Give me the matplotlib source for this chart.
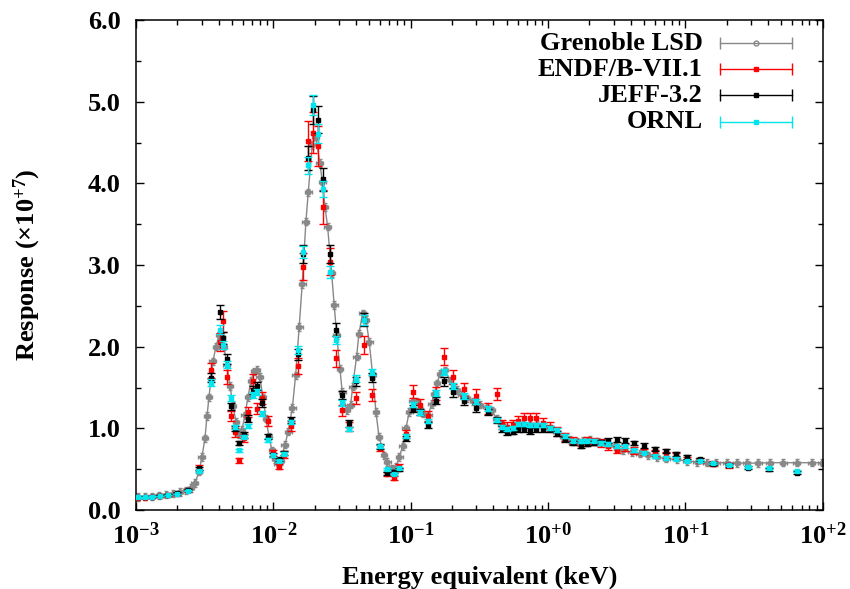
import numpy as np
import matplotlib
matplotlib.use("Agg")
import matplotlib.pyplot as plt
from matplotlib.ticker import LogLocator, FuncFormatter, MultipleLocator, NullFormatter

plt.rcParams["font.family"] = ["Liberation Serif", "DejaVu Serif"]
plt.rcParams["font.weight"] = "bold"
plt.rcParams["mathtext.fontset"] = "custom"
plt.rcParams["mathtext.rm"] = "Liberation Serif:bold"
plt.rcParams["mathtext.it"] = "Liberation Serif:bold:italic"
plt.rcParams["mathtext.bf"] = "Liberation Serif:bold"

# Grenoble LSD measurement (log10 of energy in keV, response in 1e7)
lsd_log_e = [
    -2.985, -2.934, -2.884, -2.833, -2.782, -2.731, -2.680, -2.636, -2.600, -2.571,
    -2.541, -2.520, -2.498, -2.483, -2.469, -2.454, -2.440, -2.418, -2.396, -2.374,
    -2.360, -2.338, -2.316, -2.294, -2.272, -2.250, -2.229, -2.207, -2.185, -2.163,
    -2.141, -2.119, -2.098, -2.076, -2.054, -2.032, -2.010, -1.988, -1.967, -1.945,
    -1.916, -1.892, -1.862, -1.838, -1.812, -1.790, -1.763, -1.746, -1.717, -1.692,
    -1.661, -1.644, -1.624, -1.605, -1.576, -1.557, -1.539, -1.515, -1.499, -1.467,
    -1.437, -1.423, -1.394, -1.377, -1.350, -1.326, -1.302, -1.277, -1.253, -1.231,
    -1.195, -1.171, -1.139, -1.108, -1.084, -1.059, -1.035, -1.011, -0.986, -0.957,
    -0.933, -0.909, -0.873, -0.848, -0.829, -0.809, -0.787, -0.751, -0.715, -0.666,
    -0.630, -0.593, -0.545, -0.496, -0.448, -0.411, -0.375, -0.338, -0.302, -0.254,
    -0.218, -0.181, -0.132, -0.084, -0.036, 0.013, 0.062, 0.110, 0.159, 0.207,
    0.256, 0.304, 0.365, 0.426, 0.486, 0.547, 0.608, 0.668, 0.729, 0.790,
    0.862, 0.935, 1.008, 1.081, 1.154, 1.226, 1.299, 1.372, 1.445, 1.529,
    1.614, 1.711, 1.809, 1.918, 1.993,
]
lsd_resp = [
    0.16, 0.165, 0.17, 0.18, 0.19, 0.20, 0.22, 0.24, 0.27, 0.33,
    0.47, 0.65, 0.88, 1.15, 1.38, 1.60, 1.82, 2.00, 2.14, 2.12,
    2.00, 1.78, 1.52, 1.28, 1.08, 0.93, 0.98, 1.16, 1.38, 1.58,
    1.70, 1.72, 1.63, 1.38, 1.12, 0.90, 0.73, 0.62, 0.57, 0.60,
    0.80, 0.96, 1.25, 1.65, 2.24, 2.77, 3.53, 3.89, 4.47, 4.57,
    4.25, 4.02, 3.71, 3.47, 2.90, 2.51, 2.14, 1.73, 1.45, 1.22,
    1.29, 1.51, 1.88, 2.16, 2.41, 2.33, 2.06, 1.65, 1.20, 0.90,
    0.67, 0.59, 0.51, 0.53, 0.65, 0.78, 1.00, 1.20, 1.33, 1.33,
    1.24, 1.18, 1.16, 1.30, 1.42, 1.55, 1.67, 1.71, 1.59, 1.47,
    1.41, 1.37, 1.33, 1.29, 1.26, 1.22, 1.12, 1.04, 1.00, 1.00,
    1.02, 1.04, 1.04, 1.04, 1.03, 1.00, 0.96, 0.90, 0.86, 0.84,
    0.85, 0.86, 0.84, 0.82, 0.78, 0.73, 0.71, 0.69, 0.67, 0.65,
    0.63, 0.62, 0.60, 0.59, 0.58, 0.58, 0.58, 0.575, 0.575, 0.575,
    0.58, 0.58, 0.58, 0.58, 0.58,
]

# simulations share one energy grid
sim_log_e = [
    -2.983, -2.934, -2.886, -2.825, -2.765, -2.699, -2.624, -2.539, -2.456, -2.392,
    -2.369, -2.340, -2.309, -2.280, -2.250, -2.214, -2.187, -2.151, -2.122, -2.085,
    -2.042, -2.001, -1.959, -1.919, -1.873, -1.821, -1.782, -1.746, -1.714, -1.673,
    -1.637, -1.588, -1.544, -1.503, -1.450, -1.399, -1.341, -1.285, -1.224, -1.171,
    -1.122, -1.084, -1.037, -0.986, -0.933, -0.877, -0.817, -0.756, -0.691, -0.611,
    -0.525, -0.440, -0.370, -0.338, -0.298, -0.254, -0.218, -0.176, -0.132, -0.089,
    -0.040, 0.013, 0.062, 0.122, 0.183, 0.239, 0.286, 0.333, 0.384, 0.437,
    0.499, 0.559, 0.627, 0.697, 0.777, 0.855, 0.928, 1.008, 1.105, 1.202,
    1.318, 1.456, 1.609, 1.809,
]
endf_resp = [
    0.15, 0.15, 0.16, 0.17, 0.18, 0.20, 0.24, 0.52, 1.71, 2.06,
    2.31, 1.63, 1.15, 0.95, 0.61, 0.88, 1.20, 1.58, 1.24, 1.37,
    1.09, 0.70, 0.53, 0.68, 1.03, 1.76, 2.98, 4.52, 4.62, 4.46,
    3.71, 3.04, 1.86, 1.22, 1.02, 1.37, 2.02, 1.41, 0.76, 0.44,
    0.39, 0.53, 0.93, 1.45, 1.29, 1.15, 1.43, 1.88, 1.63, 1.48,
    1.40, 1.24, 1.42, 1.05, 1.02, 1.05, 1.09, 1.13, 1.13, 1.13,
    1.07, 1.02, 0.96, 0.90, 0.85, 0.83, 0.85, 0.84, 0.82, 0.78,
    0.74, 0.77, 0.73, 0.71, 0.70, 0.67, 0.66, 0.62, 0.61, 0.57,
    0.55, np.nan, np.nan, np.nan,
]
jeff_resp = [
    0.16, 0.16, 0.165, 0.175, 0.19, 0.21, 0.25, 0.51, 1.62, 2.43,
    2.11, 1.85, 1.27, 1.00, 0.82, 0.92, 1.12, 1.47, 1.52, 1.31,
    0.90, 0.67, 0.62, 0.70, 1.10, 1.91, 3.14, 4.31, 4.90, 4.78,
    4.05, 3.13, 2.21, 1.41, 1.06, 1.58, 2.33, 1.62, 0.78, 0.45,
    0.47, 0.50, 0.88, 1.24, 1.20, 1.04, 1.34, 1.58, 1.44, 1.33,
    1.25, 1.20, 1.10, 0.99, 0.95, 0.96, 0.99, 0.99, 0.97, 0.99,
    0.99, 0.99, 0.94, 0.87, 0.82, 0.79, 0.81, 0.82, 0.83, 0.85,
    0.86, 0.85, 0.82, 0.79, 0.75, 0.72, 0.69, 0.65, 0.62, 0.57,
    0.55, 0.52, 0.50, 0.46,
]
ornl_resp = [
    0.155, 0.155, 0.163, 0.171, 0.184, 0.196, 0.236, 0.48, 1.56, 2.21,
    2.02, 1.78, 1.37, 1.02, 0.73, 0.90, 1.03, 1.41, 1.45, 1.18,
    0.86, 0.67, 0.60, 0.69, 1.08, 1.96, 3.16, 4.22, 4.96, 4.61,
    3.93, 2.91, 2.08, 1.31, 0.99, 1.61, 2.33, 1.69, 0.78, 0.50,
    0.44, 0.51, 0.91, 1.29, 1.20, 1.09, 1.43, 1.69, 1.52, 1.40,
    1.33, 1.24, 1.10, 1.02, 0.99, 1.00, 1.05, 1.05, 1.04, 1.04,
    1.04, 1.01, 0.98, 0.91, 0.85, 0.84, 0.85, 0.85, 0.82, 0.81,
    0.78, 0.78, 0.73, 0.70, 0.66, 0.64, 0.63, 0.60, 0.60, 0.58,
    0.55, 0.53, 0.51, 0.48,
]

labels = ["Grenoble LSD", "ENDF/B-VII.1", "JEFF-3.2", "ORNL"]
colors = ["#888888", "#ff0000", "#000000", "#00e5ee"]
rel_err = [0.055, 0.035, 0.025]   # relative uncertainty of the three libraries

lsd_e = 10 ** np.array(lsd_log_e)
lsd_y = np.array(lsd_resp)
sim_e = 10 ** np.array(sim_log_e)

FS = 19

fig, ax = plt.subplots(figsize=(8.5, 5.89), dpi=100)
fig.subplots_adjust(left=0.16, right=0.968, bottom=0.134, top=0.966)

# measurement: line + small x/y error bars (asterisk-like look)
half = 10 ** 0.025
ax.errorbar(lsd_e, lsd_y, xerr=[lsd_e - lsd_e / half, lsd_e * half - lsd_e],
            yerr=0.045, fmt="-o", color=colors[0], ms=3.5, lw=1,
            elinewidth=1.3, capsize=1.5, zorder=2)

for resp, col, rel, z in zip([endf_resp, jeff_resp, ornl_resp], colors[1:], rel_err, [3, 4, 5]):
    y = np.array(resp, dtype=float)
    ax.errorbar(sim_e, y, yerr=rel * y, fmt="s", color=col, ms=3.5,
                elinewidth=1, capsize=3, capthick=1, zorder=z)

ax.set_xscale("log")
ax.set_xlim(1e-3, 1e2)
ax.set_ylim(0, 6)

ax.xaxis.set_major_locator(LogLocator(base=10, numticks=10))
ax.xaxis.set_minor_locator(LogLocator(base=10, subs=np.arange(2, 10), numticks=20))
ax.xaxis.set_minor_formatter(NullFormatter())
ax.xaxis.set_major_formatter(FuncFormatter(lambda v, _: f"$10^{{{int(round(np.log10(v))):+d}}}$"))
ax.yaxis.set_major_locator(MultipleLocator(1.0))
ax.yaxis.set_minor_locator(MultipleLocator(0.5))
ax.yaxis.set_major_formatter(FuncFormatter(lambda v, _: f"{v:.1f}"))

ax.tick_params(which="both", direction="in", top=True, right=True, width=1, labelsize=FS)
ax.tick_params(which="major", length=6)
ax.tick_params(which="minor", length=3.5)
ax.tick_params(axis="x", which="major", pad=9)
ax.tick_params(axis="y", which="major", pad=11)
for s in ax.spines.values():
    s.set_linewidth(1.1)

ax.set_xlabel("Energy equivalent (keV)", fontsize=FS, fontweight="bold", labelpad=12)
ax.set_ylabel("Response ($\\times$10$^{+7}$)", fontsize=FS, fontweight="bold", labelpad=32)

# gnuplot-style key: right aligned text, horizontal error-bar sample
rows_y = [0.953, 0.900, 0.847, 0.792]
for lbl, col, yy, mk in zip(labels, colors, rows_y, ["o", "s", "s", "s"]):
    ax.text(0.825, yy, lbl, transform=ax.transAxes, ha="right", va="center",
            fontsize=FS, fontweight="bold")
    ax.plot([0.850, 0.955], [yy, yy], transform=ax.transAxes, color=col, lw=1,
            marker="|", ms=8, mew=1, clip_on=False)
    ax.plot([0.9025], [yy], transform=ax.transAxes, ls="none", marker=mk, ms=3.5,
            color=col, mfc="none" if mk == "o" else col, clip_on=False)

fig.savefig("out.png", dpi=100)
